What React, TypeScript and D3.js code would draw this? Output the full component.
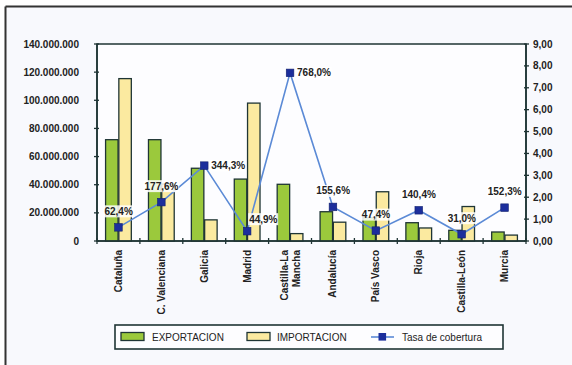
import React from "react";
import * as d3 from "d3";

// Export / import by autonomous community (euros) and coverage rate (%)
const categories = [
  "Cataluña",
  "C. Valenciana",
  "Galicia",
  "Madrid",
  "Castilla-La Mancha",
  "Andalucía",
  "País Vasco",
  "Rioja",
  "Castilla-León",
  "Murcia",
];
const exportacion = [72000000, 72000000, 51700000, 44000000, 40300000, 20800000, 16600000, 13000000, 7600000, 6400000];
const importacion = [115400000, 40500000, 15020000, 98000000, 5250000, 13370000, 35000000, 9260000, 24500000, 4200000];
const tasaCobertura = [62.4, 177.6, 344.3, 44.9, 768.0, 155.6, 47.4, 140.4, 31.0, 152.3];

const leftTicks = [0, 20000000, 40000000, 60000000, 80000000, 100000000, 120000000, 140000000];
const rightTicks = [0, 1, 2, 3, 4, 5, 6, 7, 8, 9];

const W = 572;
const H = 365;
const plot = { left: 97, right: 526, top: 44, bottom: 241 };

const FONT = "'Liberation Sans', Arial, sans-serif";
const AXIS = "#1f3535";
const GREEN = "#9bc93c";
const YELLOW = "#fbeaa0";
const LINE = "#5b8ad6";
const MARKER = "#1c2e9c";

// where a rate label sits relative to its marker
const labelPlacement: Record<string, "above" | "right" | "aboveRight"> = {
  Galicia: "right",
  Madrid: "aboveRight",
  "Castilla-La Mancha": "right",
};

const fmtThousands = d3.formatLocale({ decimal: ",", thousands: ".", grouping: [3], currency: ["", "€"] });
const fmtLeft = fmtThousands.format(",.0f");
const fmtRight = fmtThousands.format(".2f");
const fmtPct = (v: number) => fmtThousands.format(".1f")(v) + "%";

function splitLabel(s: string): string[] {
  if (s.length <= 14) return [s];
  const i = s.lastIndexOf(" ");
  return [s.slice(0, i), s.slice(i + 1)];
}

export default function App() {
  const x = d3.scaleBand<string>().domain(categories).range([plot.left, plot.right]);
  const bw = x.bandwidth();
  const sub = d3
    .scaleBand<string>()
    .domain(["exp", "imp"])
    .range([bw * 0.2, bw * 0.8])
    .paddingInner(0.06);
  const yL = d3.scaleLinear().domain([0, 140000000]).range([plot.bottom, plot.top]);
  const yR = d3.scaleLinear().domain([0, 9]).range([plot.bottom, plot.top]);

  const pts = categories.map((c, i) => ({
    c,
    v: tasaCobertura[i],
    x: (x(c) as number) + bw / 2,
    y: yR(tasaCobertura[i] / 100),
  }));
  const line = d3
    .line<{ x: number; y: number }>()
    .x((d) => d.x)
    .y((d) => d.y);

  const boundaries = d3.range(categories.length + 1).map((i) => plot.left + i * bw);

  return (
    <svg
      width={W}
      height={H}
      style={{ position: "absolute", left: 0, top: 0, fontFamily: FONT }}
    >
      <rect x={0} y={0} width={W} height={H} fill="#ffffff" />
      <rect x={6} y={7} width={W - 6} height={H - 7} fill="#f8f9fd" />
      <line x1={5.5} x2={W} y1={6.5} y2={6.5} stroke="#333" strokeWidth={2} />
      <line x1={5.5} x2={5.5} y1={6.5} y2={H} stroke="#333" strokeWidth={2} />

      {/* plot area */}
      <rect
        x={plot.left}
        y={plot.top}
        width={plot.right - plot.left}
        height={plot.bottom - plot.top}
        fill="#fdfdff"
        stroke={AXIS}
        strokeWidth={1.5}
      />

      {/* bars */}
      {categories.map((c, i) => {
        const x0 = x(c) as number;
        return (
          <g key={c}>
            <rect
              x={x0 + (sub("exp") as number)}
              y={yL(exportacion[i])}
              width={sub.bandwidth()}
              height={plot.bottom - yL(exportacion[i])}
              fill={GREEN}
              stroke={AXIS}
              strokeWidth={1.3}
            />
            <rect
              x={x0 + (sub("imp") as number)}
              y={yL(importacion[i])}
              width={sub.bandwidth()}
              height={plot.bottom - yL(importacion[i])}
              fill={YELLOW}
              stroke={AXIS}
              strokeWidth={1.3}
            />
          </g>
        );
      })}

      {/* axes */}
      <line x1={plot.left} x2={plot.left} y1={plot.top} y2={plot.bottom} stroke={AXIS} strokeWidth={1.6} />
      <line x1={plot.right} x2={plot.right} y1={plot.top} y2={plot.bottom} stroke={AXIS} strokeWidth={1.6} />
      <line x1={plot.left} x2={plot.right} y1={plot.bottom} y2={plot.bottom} stroke={AXIS} strokeWidth={1.6} />

      {leftTicks.map((t) => (
        <g key={"l" + t}>
          <line x1={plot.left - 3} x2={plot.left + 2} y1={yL(t)} y2={yL(t)} stroke={AXIS} strokeWidth={1.3} />
          <text
            x={79}
            y={yL(t)}
            dy="0.35em"
            textAnchor="end"
            fontSize={10}
            fontWeight="bold"
            fill="#222"
          >
            {fmtLeft(t)}
          </text>
        </g>
      ))}

      {rightTicks.map((t) => (
        <g key={"r" + t}>
          <line x1={plot.right - 2} x2={plot.right + 3} y1={yR(t)} y2={yR(t)} stroke={AXIS} strokeWidth={1.3} />
          <text
            x={533}
            y={yR(t)}
            dy="0.35em"
            textAnchor="start"
            fontSize={10}
            fontWeight="bold"
            fill="#222"
          >
            {fmtRight(t)}
          </text>
        </g>
      ))}

      {boundaries.map((bx, i) => (
        <line key={"b" + i} x1={bx} x2={bx} y1={plot.bottom - 3} y2={plot.bottom + 3} stroke={AXIS} strokeWidth={1.3} />
      ))}

      {/* category labels */}
      {categories.map((c) => {
        const cx = (x(c) as number) + bw / 2;
        const lines = splitLabel(c);
        return lines.map((ln, j) => {
          const off = (j - (lines.length - 1) / 2) * 12;
          return (
            <text
              key={c + j}
              transform={`translate(${cx + off + 3.5},250) rotate(-90)`}
              textAnchor="end"
              fontSize={10}
              fontWeight="bold"
              fill="#222"
            >
              {ln}
            </text>
          );
        });
      })}

      {/* coverage line */}
      <path d={line(pts) || ""} fill="none" stroke={LINE} strokeWidth={1.6} />
      {pts.map((p) => (
        <rect
          key={"m" + p.c}
          x={p.x - 3.8}
          y={p.y - 3.8}
          width={7.6}
          height={7.6}
          fill={MARKER}
          stroke="#12206e"
          strokeWidth={0.6}
        />
      ))}

      {/* rate labels */}
      {pts.map((p) => {
        const place = labelPlacement[p.c] || "above";
        const txt = fmtPct(p.v);
        const w = txt.length * 5.6;
        let lx: number;
        let ly: number;
        if (place === "right") {
          lx = p.x + 7;
          ly = p.y;
        } else if (place === "aboveRight") {
          lx = p.x + 2;
          ly = p.y - 12;
        } else {
          lx = p.x - w / 2;
          ly = p.y - 16;
        }
        return (
          <g key={"lab" + p.c}>
            <rect x={lx - 1} y={ly - 6} width={w + 2} height={12} fill="#ffffff" opacity={0.85} />
            <text x={lx} y={ly} dy="0.35em" fontSize={10} fontWeight="bold" fill="#222">
              {txt}
            </text>
          </g>
        );
      })}

      {/* legend */}
      <rect x={115} y={325} width={388} height={24} fill="#fdfdff" stroke={AXIS} strokeWidth={1.6} />
      <rect x={121} y={332.5} width={23} height={8} fill={GREEN} stroke={AXIS} strokeWidth={1.3} />
      <text x={152} y={337} dy="0.35em" fontSize={10} fill="#222">
        EXPORTACION
      </text>
      <rect x={247} y={332.5} width={23} height={8} fill={YELLOW} stroke={AXIS} strokeWidth={1.3} />
      <text x={277} y={337} dy="0.35em" fontSize={10} fill="#222">
        IMPORTACION
      </text>
      <line x1={371} x2={394} y1={337} y2={337} stroke={LINE} strokeWidth={1.6} />
      <rect x={378.5} y={333} width={7.6} height={7.6} fill={MARKER} />
      <text x={402} y={337} dy="0.35em" fontSize={10} fill="#222">
        Tasa de cobertura
      </text>
    </svg>
  );
}
